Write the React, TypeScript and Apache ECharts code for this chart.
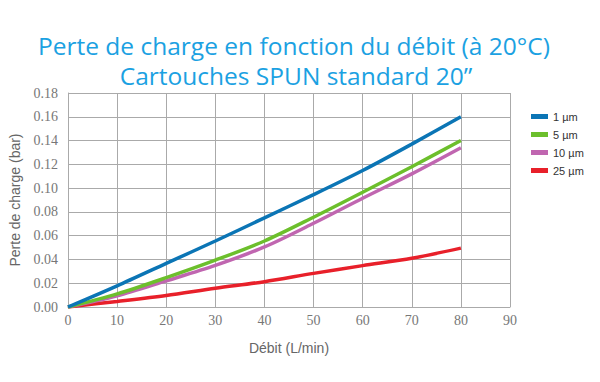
import React, { useEffect, useRef } from "react";
import * as echarts from "echarts";

const flow = [0, 10, 20, 30, 40, 50, 60, 70, 80];
const s1um = [0, 0.0178, 0.0367, 0.0555, 0.075, 0.0945, 0.1148, 0.137, 0.16];
const s5um = [0, 0.011, 0.0247, 0.0394, 0.0555, 0.0755, 0.0965, 0.118, 0.14];
const s10um = [0, 0.0094, 0.022, 0.035, 0.0505, 0.0704, 0.0915, 0.112, 0.134];
const s25um = [0, 0.0047, 0.0097, 0.0158, 0.0213, 0.0283, 0.0348, 0.041, 0.0495];
const seriesNames = ["1 µm", "5 µm", "10 µm", "25 µm"];
const seriesColors = ["#0b75b5", "#6cbf2c", "#c066b0", "#e8202a"];
const titleLines = ["Perte de charge en fonction du débit (à 20°C)", "Cartouches SPUN standard 20\u201D"];

const SERIF = "Liberation Serif";
const SANS = "Liberation Sans";

export default function App() {
  const ref = useRef<HTMLDivElement>(null);
  useEffect(() => {
    if (!ref.current) return;
    const chart = echarts.init(ref.current, undefined, { renderer: "svg" });
    const all = [s1um, s5um, s10um, s25um];
    chart.setOption({
      animation: false,
      backgroundColor: "#ffffff",
      graphic: [
        {
          type: "text",
          x: 294,
          y: 45,
          style: {
            text: titleLines[0],
            fill: "#1ba1e2",
            font: '24.5px "Open Sans"',
            textAlign: "center",
            textVerticalAlign: "middle",
          },
        },
        {
          type: "text",
          x: 296,
          y: 75,
          style: {
            text: titleLines[1],
            fill: "#1ba1e2",
            font: '24.5px "Open Sans"',
            textAlign: "center",
            textVerticalAlign: "middle",
          },
        },
      ],
      legend: {
        orient: "vertical",
        left: 526,
        top: 106,
        itemWidth: 17,
        itemHeight: 5,
        itemGap: 7,
        icon: "rect",
        textStyle: { fontFamily: SANS, fontSize: 11, color: "#333" },
        data: seriesNames,
      },
      grid: { left: 68, right: 90, top: 93, bottom: 75, outerBoundsMode: "none", containLabel: false },
      xAxis: {
        type: "value",
        min: 0,
        max: 90,
        interval: 10,
        name: "Débit (L/min)",
        nameLocation: "middle",
        nameGap: 34,
        nameTextStyle: { fontFamily: SANS, fontSize: 14, color: "#666" },
        axisLine: { show: true, lineStyle: { color: "#aaa" } },
        axisTick: { show: false },
        axisLabel: { fontFamily: SERIF, fontSize: 14, color: "#777", margin: 6 },
        splitLine: { show: true, lineStyle: { color: "#aaa", width: 1 } },
      },
      yAxis: {
        type: "value",
        min: 0,
        max: 0.18,
        interval: 0.02,
        name: "Perte de charge (bar)",
        nameLocation: "middle",
        nameGap: 46,
        nameTextStyle: { fontFamily: SANS, fontSize: 14, color: "#666" },
        axisLine: { show: true, lineStyle: { color: "#aaa" } },
        axisTick: { show: false },
        axisLabel: {
          fontFamily: SERIF,
          fontSize: 14,
          color: "#777",
          margin: 10,
          formatter: (v: number) => v.toFixed(2),
        },
        splitLine: { show: true, lineStyle: { color: "#aaa", width: 1 } },
      },
      series: all.map((arr, i) => ({
        name: seriesNames[i],
        type: "line",
        smooth: 0.3,
        showSymbol: false,
        symbol: "none",
        color: seriesColors[i],
        lineStyle: { width: 3.5, color: seriesColors[i] },
        data: flow.map((x, j) => [x, arr[j]]),
        z: 10 - i,
      })),
    });
    return () => chart.dispose();
  }, []);
  return <div ref={ref} style={{ width: 600, height: 382, position: "absolute", left: 0, top: 0 }} />;
}
